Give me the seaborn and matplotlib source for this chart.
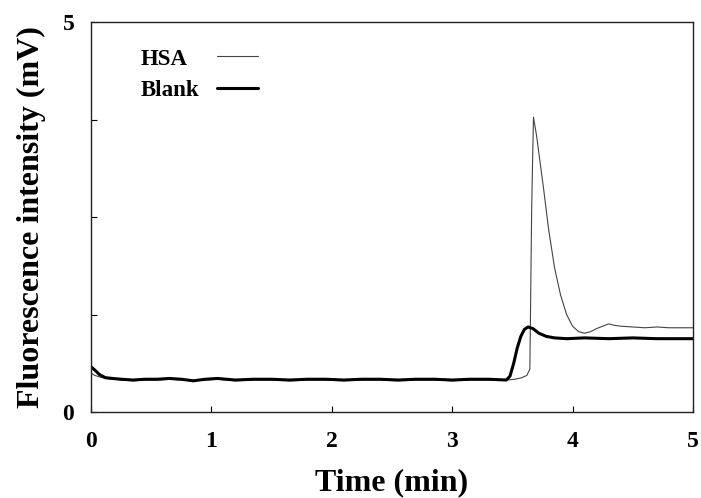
import matplotlib
matplotlib.use("Agg")
import matplotlib.pyplot as plt
import seaborn as sns
import pandas as pd
from matplotlib.ticker import FixedLocator

# ---- data ----
hsa_time = [0.0, 0.03, 0.07, 0.12, 0.18, 0.25, 0.35, 0.45, 0.55, 0.65, 0.75, 0.85,
            0.95, 1.05, 1.2, 1.35, 1.5, 1.65, 1.8, 1.95, 2.1, 2.25, 2.4, 2.55, 2.7,
            2.85, 3.0, 3.15, 3.3, 3.45, 3.52, 3.58, 3.62, 3.645, 3.66, 3.675, 3.7,
            3.73, 3.76, 3.8, 3.85, 3.9, 3.95, 4.0, 4.05, 4.1, 4.15, 4.2, 4.25, 4.3,
            4.35, 4.4, 4.5, 4.6, 4.7, 4.8, 4.9, 5.0]
hsa_signal = [0.50, 0.47, 0.45, 0.43, 0.42, 0.41, 0.40, 0.41, 0.41, 0.42, 0.41, 0.40,
              0.41, 0.42, 0.40, 0.41, 0.41, 0.40, 0.41, 0.41, 0.40, 0.41, 0.41, 0.40,
              0.41, 0.41, 0.40, 0.41, 0.41, 0.41, 0.42, 0.44, 0.47, 0.55, 2.6, 3.78, 3.55,
              3.2, 2.85, 2.35, 1.85, 1.50, 1.25, 1.10, 1.03, 1.01, 1.03, 1.07, 1.10, 1.13,
              1.11, 1.10, 1.09, 1.08, 1.09, 1.08, 1.08, 1.08]

blank_time = [0.0, 0.03, 0.07, 0.12, 0.18, 0.25, 0.35, 0.45, 0.55, 0.65, 0.75, 0.85,
              0.95, 1.05, 1.2, 1.35, 1.5, 1.65, 1.8, 1.95, 2.1, 2.25, 2.4, 2.55, 2.7,
              2.85, 3.0, 3.15, 3.3, 3.45, 3.48, 3.51, 3.54, 3.57, 3.6, 3.63, 3.67,
              3.72, 3.78, 3.85, 3.95, 4.1, 4.3, 4.5, 4.7, 4.9, 5.0]
blank_signal = [0.58, 0.54, 0.48, 0.44, 0.43, 0.42, 0.41, 0.42, 0.42, 0.43, 0.42, 0.40,
                0.42, 0.43, 0.41, 0.42, 0.42, 0.41, 0.42, 0.42, 0.41, 0.42, 0.42, 0.41,
                0.42, 0.42, 0.41, 0.42, 0.42, 0.41, 0.46, 0.62, 0.82, 0.97, 1.06, 1.09,
                1.07, 1.01, 0.97, 0.95, 0.94, 0.95, 0.94, 0.95, 0.94, 0.94, 0.94]

x_ticks = [0, 1, 2, 3, 4, 5]
y_ticks = [0, 1.25, 2.5, 3.75, 5]
y_tick_labels = ["0", "", "", "", "5"]

df = pd.concat([
    pd.DataFrame({"Time": hsa_time, "Signal": hsa_signal, "Sample": "HSA"}),
    pd.DataFrame({"Time": blank_time, "Signal": blank_signal, "Sample": "Blank"}),
])

sns.set_style("ticks")
plt.rcParams["font.family"] = ["Liberation Serif", "DejaVu Serif"]
plt.rcParams["font.weight"] = "bold"
plt.rcParams["text.color"] = "black"
plt.rcParams["axes.labelcolor"] = "black"

fig = plt.figure(figsize=(7.01, 4.98), dpi=100)
ax = fig.add_axes([91 / 701, 1 - 412 / 498, 602 / 701, 390 / 498])

sns.lineplot(data=df, x="Time", y="Signal", hue="Sample", size="Sample",
             palette={"HSA": "#444444", "Blank": "#000000"},
             sizes={"HSA": 0.8, "Blank": 2.2}, ax=ax, legend=False,
             estimator=None, sort=False)

ax.set_xlim(0, 5)
ax.set_ylim(0, 5)
ax.xaxis.set_major_locator(FixedLocator(x_ticks))
ax.yaxis.set_major_locator(FixedLocator(y_ticks))
ax.set_yticklabels(y_tick_labels)
ax.tick_params(direction="in", length=4, width=0.8, labelsize=17, colors="black")
ax.tick_params(axis="x", pad=14)
ax.tick_params(axis="y", pad=12)
for s in ax.spines.values():
    s.set_visible(True)
    s.set_linewidth(1.0)
    s.set_color("#222222")

ax.set_xlabel("Time (min)", fontsize=23, fontweight="bold", labelpad=11)
ax.set_ylabel("Fluorescence intensity (mV)", fontsize=23, fontweight="bold", labelpad=12)

lines = ax.get_lines()
leg = ax.legend(handles=[lines[0], lines[1]], labels=["HSA", "Blank"],
                loc="upper left", bbox_to_anchor=(0.048, 0.985), frameon=False,
                markerfirst=False, fontsize=16.5, handlelength=1.8,
                handletextpad=0.76, labelspacing=0.44)

# align legend texts left and handles in one column
fig.canvas.draw()
r = fig.canvas.get_renderer()
col = leg._legend_handle_box.get_children()[0]
col.align = "left"
widths = [t.get_window_extent(r).width for t in leg.get_texts()]
maxw = max(widths)
for item, w in zip(col.get_children(), widths):
    item.sep = item.sep + (maxw - w) * 72.0 / fig.dpi

fig.savefig("out.png", dpi=100)
